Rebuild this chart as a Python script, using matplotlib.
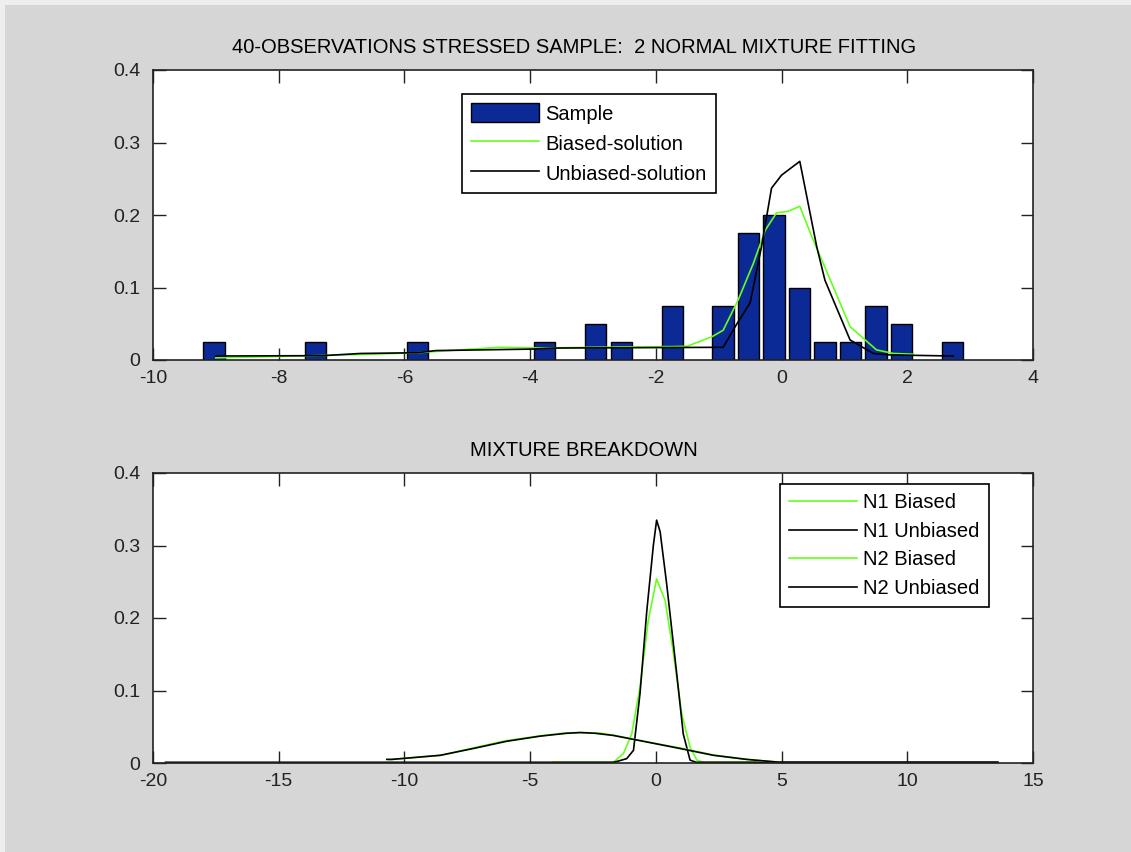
import matplotlib
matplotlib.use("Agg")
import matplotlib.pyplot as plt
from matplotlib.patches import Rectangle

# --- histogram of the 40-observation sample (only non-empty bins) ---
bin_centers = [-9.03, -7.41, -5.79, -3.77, -2.96, -2.55, -1.74, -0.93,
               -0.53, -0.12, 0.29, 0.69, 1.10, 1.50, 1.91, 2.72]
bin_heights = [0.025, 0.025, 0.025, 0.025, 0.05, 0.025, 0.075, 0.075,
               0.175, 0.2, 0.1, 0.025, 0.025, 0.075, 0.05, 0.025]

# --- fitted mixture densities (top panel) ---
biased_x = [-9.0, -7.4, -6.5, -5.8, -4.5, -3.8, -3.0, -2.5, -1.7, -1.5, -1.11,
            -0.93, -0.69, -0.45, -0.26, -0.08, 0.1, 0.29, 0.5, 0.66, 1.09,
            1.30, 1.51, 1.78, 2.10]
biased_y = [0.003, 0.006, 0.008, 0.010, 0.0175, 0.0165, 0.0175, 0.018, 0.0185,
            0.019, 0.032, 0.041, 0.083, 0.133, 0.179, 0.203, 0.205, 0.212,
            0.166, 0.134, 0.046, 0.030, 0.014, 0.009, 0.008]
unbiased_x = [-9.0, -7.3, -6.7, -5.8, -5.5, -4.0, -3.6, -1.0, -0.93, -0.71,
              -0.50, -0.32, -0.16, 0.0, 0.29, 0.56, 0.69, 1.09, 1.46, 1.72, 2.73]
unbiased_y = [0.0055, 0.006, 0.009, 0.010, 0.013, 0.015, 0.0165, 0.0175, 0.0175,
              0.05, 0.079, 0.156, 0.237, 0.255, 0.274, 0.156, 0.11, 0.0276,
              0.009, 0.007, 0.0055]

# --- mixture components (bottom panel) ---
n1b_x = [-4.1, -1.7, -1.62, -1.29, -0.96, -0.63, -0.30, 0.03, 0.37, 0.70,
         1.03, 1.36, 1.63, 1.9, 4.9]
n1b_y = [0.001, 0.001, 0.003, 0.013, 0.040, 0.105, 0.197, 0.254, 0.224, 0.151,
         0.068, 0.022, 0.004, 0.001, 0.001]
n1u_x = [-19.5, -1.7, -1.56, -1.16, -0.89, -0.63, -0.36, -0.10, 0.03, 0.17,
         0.43, 0.83, 1.09, 1.36, 1.6, 13.6]
n1u_y = [0.001, 0.001, 0.002, 0.006, 0.0175, 0.096, 0.21, 0.30, 0.335, 0.319,
         0.247, 0.123, 0.04, 0.004, 0.001, 0.001]
n2b_x = [-10.6, -8.5, -7.3, -6.0, -4.6, -3.6, -3.0, -2.2, -1.7, -0.4, 1.0,
         2.3, 3.6, 4.9]
n2b_y = [0.0045, 0.0108, 0.0205, 0.0305, 0.0375, 0.0415, 0.042, 0.0412,
         0.0385, 0.0295, 0.0205, 0.011, 0.005, 0.001]
n2u_x = [-10.7, -10.5, -8.58, -7.26, -5.93, -4.61, -3.55, -3.0, -2.42, -1.69,
         -0.36, 0.96, 2.29, 3.61, 4.94, 13.6]
n2u_y = [0.005, 0.005, 0.0106, 0.020, 0.030, 0.037, 0.041, 0.042, 0.041,
         0.038, 0.029, 0.020, 0.0106, 0.005, 0.001, 0.001]

GREEN = "#66ff1a"
BLUE = "#0b2a96"
FS = 14

plt.rcParams["font.family"] = ["Liberation Sans", "DejaVu Sans"]
plt.rcParams["font.size"] = FS
plt.rcParams["axes.unicode_minus"] = False

W, H = 1131, 852
fig = plt.figure(figsize=(W / 100, H / 100), dpi=100, facecolor="#eeeeee")
fig.patches.append(Rectangle((5 / W, 0), 1 - 5 / W, 1 - 5 / H, transform=fig.transFigure,
                             facecolor="#d6d6d6", edgecolor="none", zorder=-10))


def style(ax):
    ax.tick_params(direction="in", length=9, width=1, top=True, right=True,
                   labelsize=FS, colors="#222222")
    ax.tick_params(axis="x", pad=7)
    ax.tick_params(axis="y", pad=9)
    for s in ax.spines.values():
        s.set_linewidth(1.2)
        s.set_color("#222222")


leg_kw = dict(loc="upper left", fancybox=False, edgecolor="black", framealpha=1,
              handlelength=3.4, handletextpad=0.3, labelspacing=0.47, borderpad=0.45,
              fontsize=FS + 0.5, borderaxespad=0)

ax1 = fig.add_axes([153 / W, 1 - 360 / H, 880 / W, 290 / H])
bars = ax1.bar(bin_centers, bin_heights, width=0.34, color=BLUE, edgecolor="black",
               linewidth=1, zorder=2)
lb, = ax1.plot(biased_x, biased_y, color=GREEN, lw=1.2, zorder=3)
lu, = ax1.plot(unbiased_x, unbiased_y, color="black", lw=1.2, zorder=4)
ax1.set_xlim(-10, 4)
ax1.set_ylim(0, 0.4)
ax1.set_xticks(range(-10, 5, 2))
ax1.set_yticks([0, 0.1, 0.2, 0.3, 0.4])
ax1.set_yticklabels(["0", "0.1", "0.2", "0.3", "0.4"])
ax1.set_title("40-OBSERVATIONS STRESSED SAMPLE:  2 NORMAL MIXTURE FITTING",
              fontsize=FS + 0.5, pad=12, x=0.478)
style(ax1)
leg1 = ax1.legend([bars, lb, lu], ["Sample", "Biased-solution", "Unbiased-solution"],
                  bbox_to_anchor=(0.351, 0.917), handleheight=1.1, **leg_kw)
leg1.get_frame().set_linewidth(1.2)

ax2 = fig.add_axes([153 / W, 1 - 763 / H, 880 / W, 290 / H])
ax2.plot(n1b_x, n1b_y, color=GREEN, lw=1.2, label="N1 Biased", clip_on=False)
ax2.plot(n1u_x, n1u_y, color="black", lw=1.2, label="N1 Unbiased", clip_on=False)
ax2.plot(n2b_x, n2b_y, color=GREEN, lw=1.2, label="N2 Biased", clip_on=False)
ax2.plot(n2u_x, n2u_y, color="black", lw=1.2, label="N2 Unbiased", clip_on=False)
ax2.set_xlim(-20, 15)
ax2.set_ylim(0, 0.4)
ax2.set_xticks(range(-20, 16, 5))
ax2.set_yticks([0, 0.1, 0.2, 0.3, 0.4])
ax2.set_yticklabels(["0", "0.1", "0.2", "0.3", "0.4"])
ax2.set_title("MIXTURE BREAKDOWN", fontsize=FS + 0.5, pad=12, x=0.49)
style(ax2)
leg2 = ax2.legend(bbox_to_anchor=(0.712, 0.961), **leg_kw)
leg2.get_frame().set_linewidth(1.2)

fig.savefig("out.png", dpi=100, facecolor=fig.get_facecolor())
